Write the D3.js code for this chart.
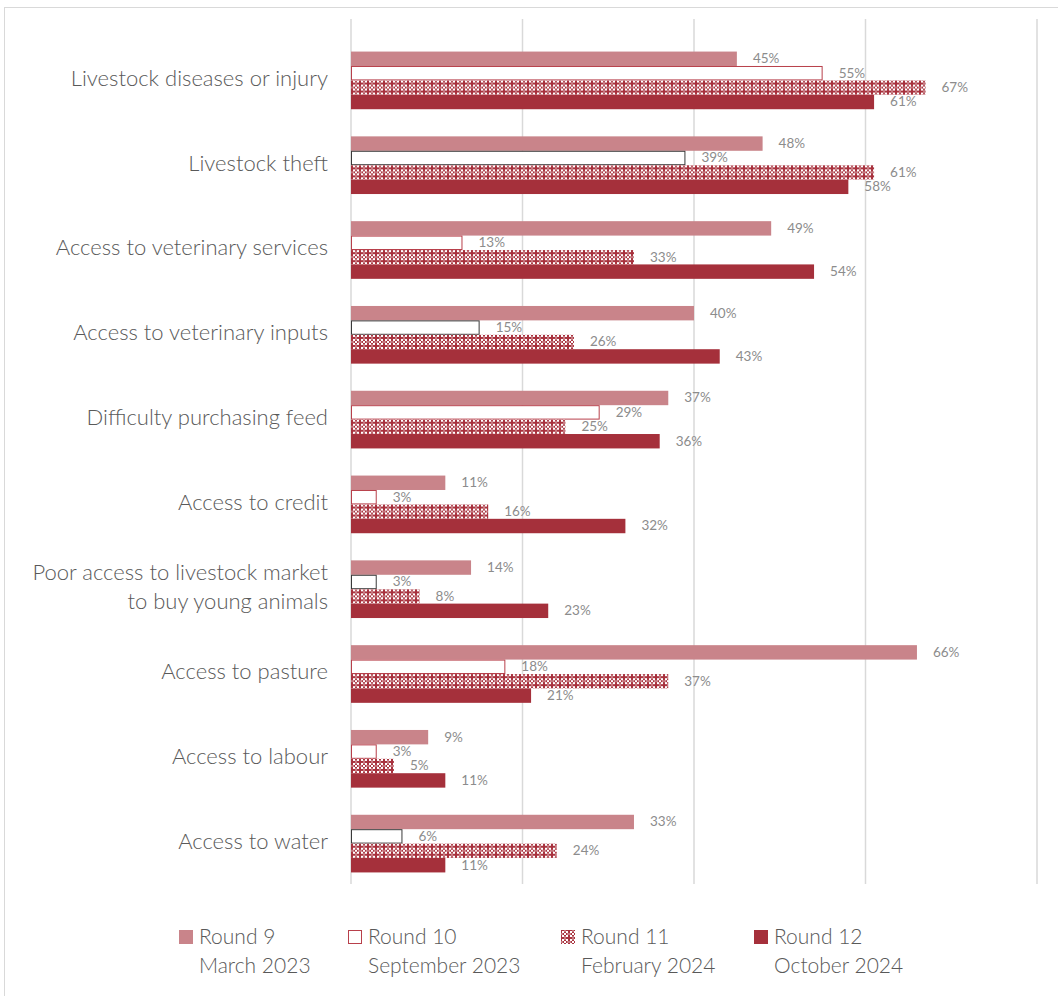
<!DOCTYPE html>
<html>
<head>
<meta charset="utf-8">
<script src="https://cdn.jsdelivr.net/npm/d3@7"></script>
<style>
  body { margin: 0; background: #ffffff; }
  svg { display: block; font-family: Lato, "Open Sans", sans-serif; }
</style>
</head>
<body>
<div id="chart"></div>
<script>
const categories = [
    'Livestock diseases or injury',
    'Livestock theft',
    'Access to veterinary services',
    'Access to veterinary inputs',
    'Difficulty purchasing feed',
    'Access to credit',
    'Poor access to livestock market|to buy young animals',
    'Access to pasture',
    'Access to labour',
    'Access to water'
];
const seriesNames = ['Round 9|March 2023', 'Round 10|September 2023', 'Round 11|February 2024', 'Round 12|October 2024'];
const round9 = [45, 48, 49, 40, 37, 11, 14, 66, 9, 33];
const round10 = [55, 39, 13, 15, 29, 3, 3, 18, 3, 6];
const round11 = [67, 61, 33, 26, 25, 16, 8, 37, 5, 24];
const round12 = [61, 58, 54, 43, 36, 32, 23, 21, 11, 11];
const gridTicks = [0, 20, 40, 60, 80];

const seriesValues = [round9, round10, round11, round12];

// the Round 10 outlines are not all the same colour in the original
const darkOutline = ['Livestock theft', 'Access to veterinary inputs',
    'Poor access to livestock market|to buy young animals', 'Access to water'];

const width = 1058, height = 996;
const svg = d3.select('#chart').append('svg')
    .attr('width', width)
    .attr('height', height);

const defs = svg.append('defs');
const pat = defs.append('pattern')
    .attr('id', 'cross')
    .attr('patternUnits', 'userSpaceOnUse')
    .attr('width', 8)
    .attr('height', 8);
pat.append('rect').attr('width', 8).attr('height', 8).attr('fill', '#a8323e');
[[1, 1], [5, 1], [3, 3], [1, 5], [5, 5]].forEach(p => {
    pat.append('rect').attr('x', p[0]).attr('y', p[1]).attr('width', 2).attr('height', 2).attr('fill', '#ffffff');
});
[[3, 0], [0, 3], [3, 6], [6, 3]].forEach(p => {
    pat.append('rect').attr('x', p[0]).attr('y', p[1]).attr('width', 2).attr('height', 2)
        .attr('fill', '#ffffff').attr('opacity', 0.35);
});

const fills = ['#c9848a', '#ffffff', 'url(#cross)', '#a5303b'];

// chart border
svg.append('rect')
    .attr('x', 4.5).attr('y', 7.5)
    .attr('width', 1070).attr('height', 1000)
    .attr('fill', 'none')
    .attr('stroke', '#d9d9d9');

const x = d3.scaleLinear().domain([0, 80]).range([351, 1037]);
const y = d3.scaleBand().domain(categories).range([38, 886]).paddingInner(0.32).paddingOuter(0.16);
const ySub = d3.scaleBand().domain(d3.range(4)).range([0, y.bandwidth()]);

// gridlines
svg.append('g').selectAll('line')
    .data(gridTicks)
    .enter()
    .append('line')
    .attr('x1', d => x(d)).attr('x2', d => x(d))
    .attr('y1', 19).attr('y2', 884)
    .attr('stroke', '#d9d9d9')
    .attr('stroke-width', 1.5);

const groups = svg.append('g').selectAll('g')
    .data(categories)
    .enter()
    .append('g')
    .attr('transform', d => `translate(0,${y(d)})`);

groups.each(function(cat, ci) {
    const g = d3.select(this);
    seriesValues.forEach((vals, si) => {
        const v = vals[ci];
        const by = ySub(si);
        const bar = g.append('rect')
            .attr('x', x(0))
            .attr('y', by)
            .attr('width', x(v) - x(0))
            .attr('height', ySub.bandwidth())
            .attr('fill', fills[si]);
        if (si === 1) {
            bar.attr('x', x(0) + 0.5)
                .attr('y', by + 0.5)
                .attr('width', x(v) - x(0) - 1)
                .attr('height', ySub.bandwidth() - 1)
                .attr('stroke', darkOutline.includes(cat) ? '#3a3a3a' : '#b8404b')
                .attr('stroke-width', 1);
        }
        g.append('text')
            .attr('x', x(v) + 16)
            .attr('y', by + ySub.bandwidth() / 2 + 1)
            .attr('dominant-baseline', 'middle')
            .attr('font-size', 13.5)
            .attr('fill', '#8c8c8c')
            .text(v + '%');
    });

    // category label
    const lines = cat.split('|');
    const cy = y.bandwidth() / 2;
    const lh = 29;
    lines.forEach((ln, li) => {
        g.append('text')
            .attr('x', 328)
            .attr('y', cy + (li - (lines.length - 1) / 2) * lh)
            .attr('text-anchor', 'end')
            .attr('dominant-baseline', 'middle')
            .attr('font-size', 22)
            .attr('font-weight', 300)
            .attr('fill', '#595959')
            .text(ln);
    });
});

// legend
const legendX = [179, 348, 561, 754];
const legend = svg.append('g').selectAll('g')
    .data(seriesNames)
    .enter()
    .append('g')
    .attr('transform', (d, i) => `translate(${legendX[i]},930)`);

legend.append('rect')
    .attr('x', (d, i) => i === 1 ? 0.5 : 0)
    .attr('y', (d, i) => i === 1 ? 0.5 : 0)
    .attr('width', (d, i) => i === 1 ? 13 : 14)
    .attr('height', (d, i) => i === 1 ? 13 : 14)
    .attr('fill', (d, i) => fills[i])
    .attr('stroke', (d, i) => i === 1 ? '#b8404b' : 'none');

legend.each(function(d) {
    const parts = d.split('|');
    parts.forEach((p, li) => {
        d3.select(this).append('text')
            .attr('x', 20)
            .attr('y', 14 + li * 29)
            .attr('font-size', 21)
            .attr('font-weight', 300)
            .attr('fill', '#595959')
            .text(p);
    });
});
</script>
</body>
</html>
